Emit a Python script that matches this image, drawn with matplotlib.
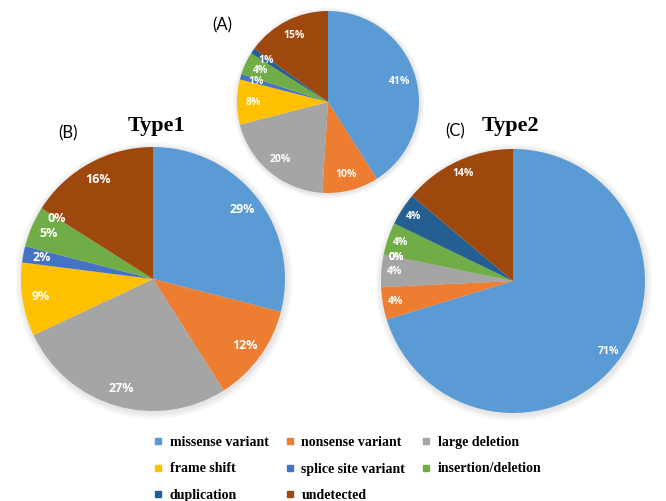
import matplotlib
matplotlib.use("Agg")
import matplotlib.pyplot as plt
from matplotlib.lines import Line2D
from matplotlib.patches import Circle

# ── Data ──────────────────────────────────────────────────────────────────────
CATEGORIES = ["missense variant", "nonsense variant", "large deletion",
              "frame shift", "splice site variant", "insertion/deletion",
              "duplication", "undetected"]
COLORS = ["#5B9BD5", "#ED7D31", "#A5A5A5", "#FFC000",
          "#4472C4", "#70AD47", "#255E91", "#9E480E"]

VALUES_A = [41, 10, 20, 8, 1, 4, 1, 15]      # all patients
VALUES_B = [29, 12, 27, 9, 2, 5, 0, 16]      # Type1
VALUES_C = [71, 4, 4, 0, 0, 4, 4, 14]        # Type2

W, H = 666, 501
LABEL_FONT = "Open Sans"
SERIF = "Liberation Serif"


def pie_axes(fig, cx, cy, r, pad=1.08):
    """Square axes (pixel coords, origin top-left) holding a unit pie."""
    half = r * pad
    ax = fig.add_axes([(cx - half) / W, (H - cy - half) / H, 2 * half / W, 2 * half / H])
    ax.set_xlim(-pad, pad)
    ax.set_ylim(-pad, pad)
    ax.set_aspect("equal")
    ax.axis("off")
    return ax


def draw_pie(ax, values, fontsize, pctdist):
    total = sum(values)
    # soft halo like the Excel shadow
    for k in range(5):
        ax.add_patch(Circle((0.008, -0.012), 1 + 0.01 * (k + 1), color="#000000",
                            alpha=0.018, lw=0, zorder=0))
    wedges, _, autotexts = ax.pie(values, colors=COLORS, startangle=90, counterclock=False,
                                  radius=1, pctdistance=pctdist,
                                  autopct=lambda p: f"{p * total / 100:.0f}%",
                                  wedgeprops=dict(linewidth=0))
    for t in autotexts:
        t.set_color("white")
        t.set_fontsize(fontsize)
        t.set_fontweight("bold")
        t.set_family(LABEL_FONT)
    ax.set_xlim(-1.08, 1.08)
    ax.set_ylim(-1.08, 1.08)
    return autotexts


fig = plt.figure(figsize=(W / 100, H / 100), dpi=100)
fig.patch.set_facecolor("white")

ax_a = pie_axes(fig, 328, 102, 91)
draw_pie(ax_a, VALUES_A, 7.5, 0.82)

ax_b = pie_axes(fig, 153, 279, 132)
draw_pie(ax_b, VALUES_B, 9, 0.86)

ax_c = pie_axes(fig, 513, 281, 132)
draw_pie(ax_c, VALUES_C, 7.5, 0.9)

# panel letters and titles
fig.text(222 / W, 1 - 25 / H, "(A)", ha="center", va="center", fontsize=12, family="Lato")
fig.text(68 / W, 1 - 133 / H, "(B)", ha="center", va="center", fontsize=12, family="Lato")
fig.text(455 / W, 1 - 131 / H, "(C)", ha="center", va="center", fontsize=12, family="Lato")
fig.text(157 / W, 1 - 126 / H, "Type1", ha="center", va="center", fontsize=16,
         fontweight="bold", family=SERIF)
fig.text(511 / W, 1 - 126 / H, "Type2", ha="center", va="center", fontsize=16,
         fontweight="bold", family=SERIF)

# legend, filled row by row like the original
handles = [Line2D([], [], marker="s", linestyle="none", markersize=5,
                  markerfacecolor=c, markeredgecolor=c) for c in COLORS]
order = [0, 3, 6, 1, 4, 7, 2, 5]
fig.legend([handles[i] for i in order], [CATEGORIES[i] for i in order],
           ncol=3, loc="center", bbox_to_anchor=(347 / W, 1 - 469 / H),
           frameon=False, prop={"family": SERIF, "weight": "bold", "size": 10},
           handlelength=0.8, handletextpad=0.45, columnspacing=1.1, labelspacing=0.95)

fig.savefig("out.png", dpi=100, facecolor="white")
